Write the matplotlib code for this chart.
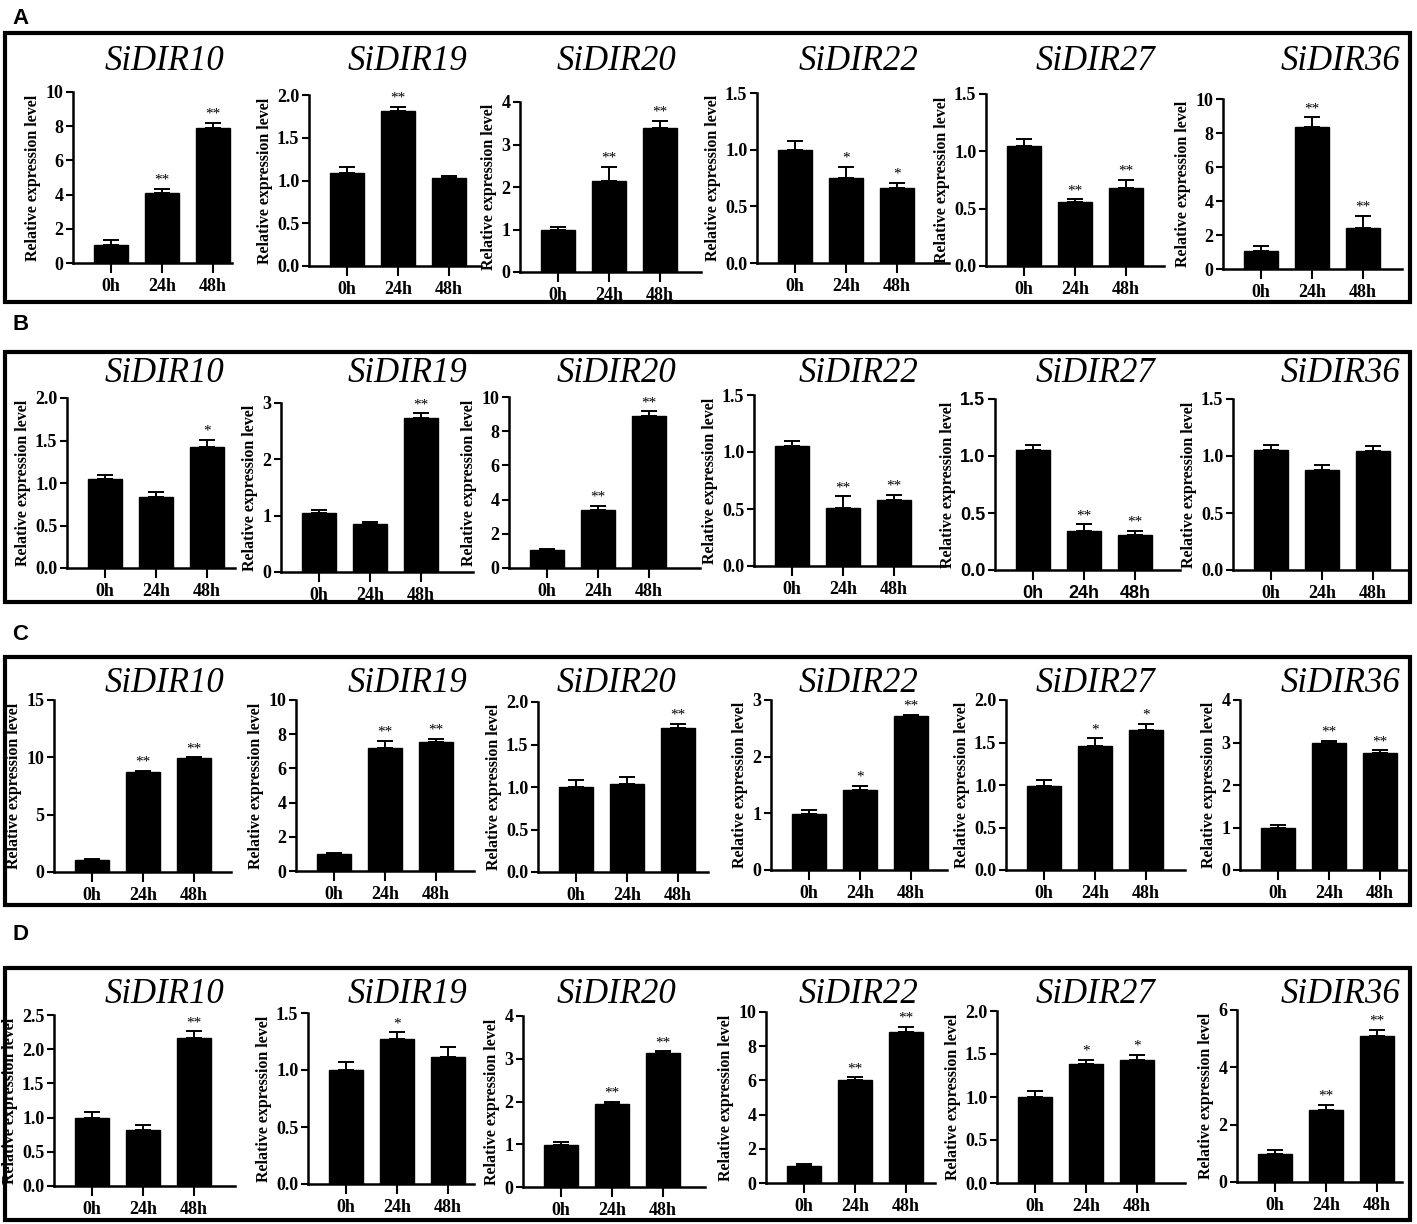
import numpy as np
import matplotlib.pyplot as plt
from matplotlib.patches import Rectangle

W, H = 1417, 1224

genes = ['SiDIR10', 'SiDIR19', 'SiDIR20', 'SiDIR22', 'SiDIR27', 'SiDIR36']
times = ['0h', '24h', '48h']
row_names = ['A', 'B', 'C', 'D']

# mean values (gene x time) for each treatment row
a_mean = [[1.03, 4.12, 7.90], [1.09, 1.81, 1.035], [1.00, 2.13, 3.38],
          [1.00, 0.75, 0.66], [1.05, 0.56, 0.68], [1.04, 8.36, 2.44]]
a_err = [[0.29, 0.21, 0.29], [0.07, 0.05, 0.012], [0.07, 0.35, 0.17],
         [0.08, 0.10, 0.05], [0.06, 0.02, 0.07], [0.29, 0.57, 0.70]]
a_star = [['', '**', '**'], ['', '**', ''], ['', '**', '**'],
          ['', '*', '*'], ['', '**', '**'], ['', '**', '**']]
a_ymax = [10, 2.0, 4, 1.5, 1.5, 10]
a_step = [2, 0.5, 1, 0.5, 0.5, 2]

b_mean = [[1.05, 0.84, 1.42], [1.05, 0.86, 2.73], [1.03, 3.37, 8.90],
          [1.055, 0.51, 0.58], [1.05, 0.34, 0.31], [1.05, 0.88, 1.04]]
b_err = [[0.05, 0.05, 0.09], [0.05, 0.025, 0.09], [0.08, 0.28, 0.26],
         [0.045, 0.10, 0.045], [0.05, 0.06, 0.035], [0.05, 0.04, 0.05]]
b_star = [['', '', '*'], ['', '', '**'], ['', '**', '**'],
          ['', '**', '**'], ['', '**', '**'], ['', '', '']]
b_ymax = [2.0, 3, 10, 1.5, 1.5, 1.5]
b_step = [0.5, 1, 2, 0.5, 0.5, 0.5]

c_mean = [[1.02, 8.75, 9.90], [0.99, 7.21, 7.54], [1.00, 1.03, 1.70],
          [0.99, 1.41, 2.71], [0.99, 1.46, 1.65], [0.98, 2.99, 2.75]]
c_err = [[0.15, 0.08, 0.10], [0.08, 0.41, 0.18], [0.08, 0.09, 0.04],
         [0.07, 0.08, 0.03], [0.07, 0.09, 0.07], [0.09, 0.05, 0.07]]
c_star = [['', '**', '**'], ['', '**', '**'], ['', '', '**'],
          ['', '*', '**'], ['', '*', '*'], ['', '**', '**']]
c_ymax = [15, 10, 2.0, 3, 2.0, 4]
c_step = [5, 2, 0.5, 1, 0.5, 1]

d_mean = [[1.00, 0.815, 2.17], [1.00, 1.27, 1.11], [0.98, 1.95, 3.13],
          [0.99, 6.02, 8.85], [1.00, 1.38, 1.43], [0.99, 2.50, 5.10]]
d_err = [[0.08, 0.075, 0.09], [0.07, 0.06, 0.09], [0.08, 0.05, 0.04],
         [0.10, 0.16, 0.27], [0.07, 0.05, 0.06], [0.11, 0.20, 0.21]]
d_star = [['', '', '**'], ['', '*', ''], ['', '**', '**'],
          ['', '**', '**'], ['', '*', '*'], ['', '**', '**']]
d_ymax = [2.5, 1.5, 4, 10, 2.0, 6]
d_step = [0.5, 0.5, 1, 2, 0.5, 2]

rows = [(a_mean, a_err, a_star, a_ymax, a_step),
        (b_mean, b_err, b_star, b_ymax, b_step),
        (c_mean, c_err, c_star, c_ymax, c_step),
        (d_mean, d_err, d_star, d_ymax, d_step)]

# layout in pixels: axes [left, right, top, bottom] per row / column
axes_px = [
    [(73, 232, 92, 263), (309, 481, 95, 266), (520, 701, 102, 272),
     (757, 949, 93, 263), (986, 1164, 94, 266), (1223, 1402, 99, 269)],
    [(67, 235, 398, 568), (281, 473, 403, 572), (509, 700, 397, 568),
     (754, 945, 395, 566), (995, 1180, 399, 570), (1233, 1408, 399, 570)],
    [(54, 231, 700, 872), (296, 474, 700, 871), (538, 708, 702, 872),
     (771, 947, 700, 870), (1006, 1185, 700, 870), (1240, 1406, 700, 870)],
    [(54, 235, 1015, 1186), (308, 474, 1013, 1184), (523, 705, 1016, 1187),
     (766, 935, 1012, 1183), (997, 1185, 1011, 1183), (1237, 1402, 1010, 1182)],
]
frames_px = [(5, 33, 1410, 302), (5, 352, 1410, 602), (5, 657, 1410, 905), (5, 968, 1410, 1220)]
label_y = [18, 325, 635, 935]
title_base = [70, 382, 692, 1003]
title_x = [164, 407, 616, 858, 1095, 1340]

serif = 'Liberation Serif'
sans = 'Liberation Sans'
bar_gap = 51.0   # px between bar centres
first_off = 38.0  # px from spine to first bar

fig = plt.figure(figsize=(W / 100, H / 100), dpi=100)

for r, (means, errs, stars, ymaxs, steps) in enumerate(rows):
    fx0, fy0, fx1, fy1 = frames_px[r]
    fig.add_artist(Rectangle((fx0 / W, 1 - fy1 / H), (fx1 - fx0) / W, (fy1 - fy0) / H,
                             transform=fig.transFigure, fill=False, lw=3, ec='black'))
    fig.text(12 / W, 1 - label_y[r] / H, row_names[r], fontsize=16, fontweight='bold',
             family=sans, va='center', ha='left')

    for c, gene in enumerate(genes):
        l, rt, t, b = axes_px[r][c]
        ax = fig.add_axes([l / W, 1 - b / H, (rt - l) / W, (b - t) / H])
        x = np.arange(len(times))
        ax.bar(x, means[c], width=34 / bar_gap, color='black', edgecolor='black')
        ax.errorbar(x, means[c], yerr=[np.zeros(3), errs[c]], fmt='none', ecolor='black',
                    elinewidth=1.4, capsize=6, capthick=1.4)
        for i in range(3):
            if stars[c][i]:
                ax.annotate(stars[c][i], (x[i], means[c][i] + errs[c][i]),
                            xytext=(0, 1.5), textcoords='offset points', ha='center',
                            va='bottom', fontsize=11, family=serif, annotation_clip=False)

        wpx = rt - l
        ax.set_xlim(-first_off / bar_gap, (wpx - first_off) / bar_gap)
        ax.set_ylim(0, ymaxs[c])
        ticks = np.arange(0, ymaxs[c] + steps[c] / 2, steps[c])
        ax.set_yticks(ticks)
        if steps[c] < 1:
            ax.set_yticklabels(['%.1f' % v for v in ticks])
        else:
            ax.set_yticklabels(['%d' % v for v in ticks])
        ax.set_xticks(x)
        ax.set_xticklabels(times)

        tick_font = sans if (r == 1 and c == 4) else serif
        for lab in ax.get_xticklabels() + ax.get_yticklabels():
            lab.set_family(tick_font)
            lab.set_fontweight('bold')
            lab.set_fontsize(13)
        ax.tick_params(axis='both', width=1.5, length=5, pad=2)
        ax.tick_params(axis='x', length=7, pad=4)
        ax.spines['top'].set_visible(False)
        ax.spines['right'].set_visible(False)
        ax.spines['left'].set_linewidth(1.8)
        ax.spines['bottom'].set_linewidth(1.8)
        ax.set_ylabel('Relative expression level', fontsize=11.5, fontweight='bold',
                      family=serif, labelpad=3)

        fig.text(title_x[c] / W, 1 - title_base[r] / H, gene, fontsize=25, style='italic',
                 family=serif, ha='center', va='baseline')

fig.savefig('out.png', dpi=100)
